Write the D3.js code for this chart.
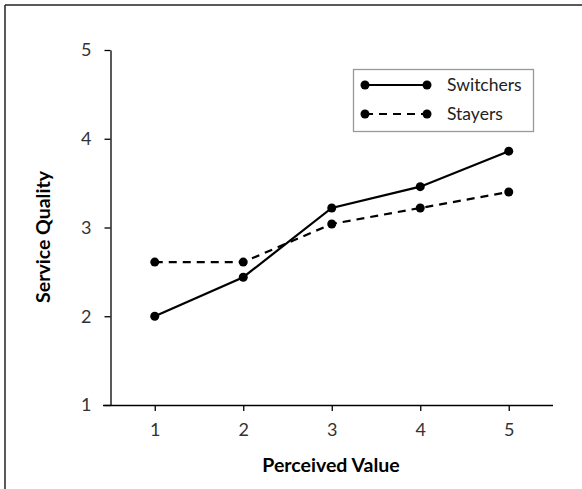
<!DOCTYPE html>
<html>
<head>
<meta charset="utf-8">
<script src="https://cdn.jsdelivr.net/npm/d3@7"></script>
<style>
  body { margin: 0; background: #fff; }
  svg { display: block; font-family: Lato, "Open Sans", sans-serif; }
</style>
</head>
<body>
<svg id="chart" width="582" height="489"></svg>
<script>
// values
const perceived = [1, 2, 3, 4, 5];
const switchers = [2.00, 2.44, 3.22, 3.46, 3.86];
const stayers = [2.61, 2.61, 3.04, 3.22, 3.40];
const yTicks = [1, 2, 3, 4, 5];

const series = [
    {name: 'Switchers', values: switchers, dash: null},
    {name: 'Stayers', values: stayers, dash: '8,6'}
];

const svg = d3.select('#chart');

// frame, only top and left edges visible in the reference
svg.append('line').attr('x1', 5).attr('y1', 5).attr('x2', 582).attr('y2', 5)
    .attr('stroke', '#222').attr('stroke-width', 1.5);
svg.append('line').attr('x1', 5).attr('y1', 5).attr('x2', 5).attr('y2', 489)
    .attr('stroke', '#222').attr('stroke-width', 1.5);

const x = d3.scaleLinear().domain([0.5, 5.5]).range([110.5, 553]);
const y = d3.scaleLinear().domain([1, 5]).range([405, 50]);

// x axis
const xAxis = svg.append('g')
    .attr('transform', 'translate(0,405)')
    .call(d3.axisBottom(x).tickValues(perceived).tickFormat(d3.format('d'))
        .tickSize(6).tickPadding(12).tickSizeOuter(0));
xAxis.select('.domain').attr('d', 'M103,0.5H553').attr('stroke', '#000').attr('stroke-width', 1.3);
xAxis.selectAll('.tick line').attr('stroke', '#000').attr('stroke-width', 1.3);
xAxis.selectAll('text').attr('font-size', 18).attr('fill', '#333').attr('font-family', 'Lato');

// y axis
const yAxis = svg.append('g')
    .attr('transform', 'translate(110.5,0)')
    .call(d3.axisLeft(y).tickValues(yTicks).tickFormat(d3.format('d'))
        .tickSize(6).tickPadding(13).tickSizeOuter(0));
yAxis.select('.domain').attr('stroke', '#000').attr('stroke-width', 1.3);
yAxis.selectAll('.tick line').attr('stroke', '#000').attr('stroke-width', 1.3);
yAxis.selectAll('text').attr('font-size', 18).attr('fill', '#333').attr('font-family', 'Lato');

// axis titles
svg.append('text')
    .attr('x', 331).attr('y', 472)
    .attr('text-anchor', 'middle')
    .attr('font-size', 19.5).attr('font-weight', 'bold')
    .text('Perceived Value');

svg.append('text')
    .attr('transform', 'translate(50,237) rotate(-90)')
    .attr('text-anchor', 'middle')
    .attr('font-size', 19.5).attr('font-weight', 'bold')
    .text('Service Quality');

// lines and markers
const line = d3.line()
    .x((d, i) => x(perceived[i]))
    .y(d => y(d));

const groups = svg.selectAll('.series')
    .data(series)
    .enter().append('g')
    .attr('class', 'series');

groups.append('path')
    .attr('d', d => line(d.values))
    .attr('fill', 'none')
    .attr('stroke', '#000')
    .attr('stroke-width', 2.2)
    .attr('stroke-dasharray', d => d.dash);

groups.selectAll('circle')
    .data(d => d.values)
    .enter().append('circle')
    .attr('cx', (d, i) => x(perceived[i]))
    .attr('cy', d => y(d))
    .attr('r', 4.5)
    .attr('fill', '#000');

// legend
const legend = svg.append('g').attr('transform', 'translate(353,69)');
legend.append('rect')
    .attr('x', 0.5).attr('y', 0.5)
    .attr('width', 180).attr('height', 62)
    .attr('fill', '#fff').attr('stroke', '#999').attr('stroke-width', 1.3);

const items = legend.selectAll('.item')
    .data(series)
    .enter().append('g')
    .attr('transform', (d, i) => 'translate(0,' + (16 + i * 29) + ')');

items.append('line')
    .attr('x1', 12).attr('x2', 74)
    .attr('stroke', '#000').attr('stroke-width', 2.2)
    .attr('stroke-dasharray', d => d.dash);
items.selectAll('circle')
    .data([12, 74])
    .enter().append('circle')
    .attr('cx', d => d).attr('cy', 0).attr('r', 4.5).attr('fill', '#000');
items.append('text')
    .attr('x', 94).attr('y', 6)
    .attr('font-size', 17.5).attr('fill', '#222')
    .text(d => d.name);
</script>
</body>
</html>
